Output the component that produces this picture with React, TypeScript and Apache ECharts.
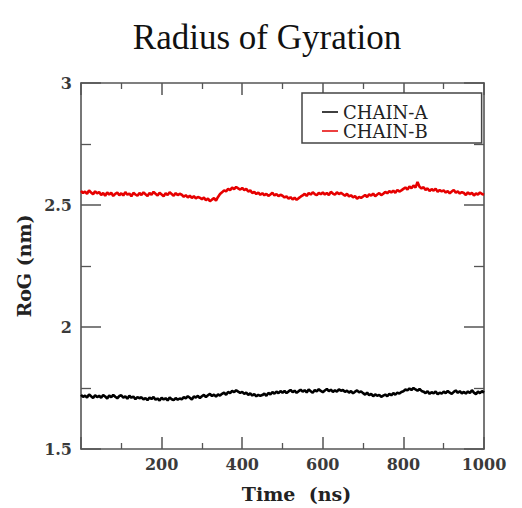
import React, { useEffect, useRef } from "react";
import * as echarts from "echarts";

// Sampling interval of the trajectory (ns)
const TIME_STEP = 5;

// Radius of gyration (nm), CHAIN-A, read every 5 ns from 0 to 1000 ns
const chainA: number[] = [
  1.722, 1.714, 1.719, 1.711, 1.724, 1.716, 1.709, 1.72, 1.713, 1.718,
  1.71, 1.721, 1.715, 1.707, 1.719, 1.712, 1.722, 1.714, 1.708, 1.717,
  1.72, 1.711, 1.716, 1.706, 1.718, 1.71, 1.715, 1.704, 1.713, 1.708,
  1.712, 1.703, 1.709, 1.7, 1.711, 1.705, 1.713, 1.702, 1.707, 1.699,
  1.71, 1.703, 1.708, 1.699, 1.711, 1.704, 1.7, 1.709, 1.702, 1.707,
  1.704, 1.712, 1.708, 1.716, 1.71, 1.703, 1.715, 1.711, 1.718, 1.709,
  1.716, 1.722, 1.713, 1.72, 1.726, 1.717, 1.723, 1.715, 1.724, 1.719,
  1.726, 1.731, 1.722, 1.734, 1.729, 1.738, 1.733, 1.741, 1.735, 1.73,
  1.734, 1.726, 1.731, 1.722, 1.728, 1.719, 1.725, 1.716, 1.722, 1.718,
  1.721, 1.727, 1.718, 1.73, 1.724, 1.733, 1.727, 1.735, 1.729, 1.737,
  1.731, 1.738, 1.729, 1.736, 1.742, 1.733, 1.739, 1.73, 1.737, 1.743,
  1.735, 1.741, 1.732, 1.744, 1.737, 1.73, 1.742, 1.736, 1.745, 1.738,
  1.733, 1.74, 1.746, 1.737, 1.743, 1.734, 1.741, 1.735, 1.744, 1.739,
  1.742, 1.734, 1.739, 1.731, 1.737, 1.728, 1.735, 1.74, 1.732, 1.736,
  1.729, 1.723, 1.731, 1.72, 1.726, 1.716, 1.724, 1.718, 1.722, 1.714,
  1.719, 1.723, 1.716, 1.726, 1.72, 1.729, 1.723, 1.731, 1.727, 1.734,
  1.737, 1.744, 1.74, 1.748, 1.742, 1.75, 1.744, 1.739, 1.746, 1.738,
  1.735, 1.729, 1.737, 1.726, 1.733, 1.728, 1.736, 1.724, 1.731, 1.727,
  1.735, 1.729, 1.738, 1.731, 1.726, 1.734, 1.74, 1.73, 1.737, 1.728,
  1.734, 1.727, 1.736, 1.729, 1.741, 1.731, 1.725, 1.735, 1.729, 1.737,
  1.731,
];

// Radius of gyration (nm), CHAIN-B, read every 5 ns from 0 to 1000 ns
const chainB: number[] = [
  2.558, 2.549, 2.555, 2.546, 2.56, 2.551, 2.544, 2.556, 2.548, 2.553,
  2.541, 2.549, 2.538, 2.552, 2.543, 2.55, 2.537, 2.546, 2.551, 2.54,
  2.548, 2.539, 2.553, 2.542, 2.547, 2.536, 2.55, 2.543, 2.538, 2.549,
  2.541, 2.552, 2.544, 2.537, 2.549, 2.542, 2.554, 2.546, 2.539, 2.55,
  2.543, 2.536, 2.548, 2.541, 2.552, 2.545, 2.538, 2.549, 2.54, 2.546,
  2.542, 2.534, 2.54, 2.531, 2.538, 2.529, 2.536, 2.527, 2.533, 2.53,
  2.524, 2.531, 2.519, 2.527, 2.515, 2.522, 2.528, 2.518, 2.533, 2.545,
  2.552, 2.56, 2.556, 2.566, 2.561, 2.571, 2.565, 2.574, 2.568, 2.563,
  2.57, 2.561, 2.566, 2.555, 2.56, 2.549, 2.554, 2.545, 2.551, 2.542,
  2.548, 2.54, 2.546, 2.537, 2.543, 2.55, 2.539, 2.545, 2.536, 2.542,
  2.538, 2.531, 2.535, 2.526, 2.532, 2.523, 2.53, 2.521, 2.528, 2.534,
  2.539, 2.546, 2.537, 2.549, 2.543, 2.552, 2.545, 2.54, 2.55, 2.544,
  2.551, 2.543, 2.549, 2.541, 2.554, 2.547, 2.542, 2.552, 2.545, 2.55,
  2.544, 2.538, 2.546, 2.535, 2.54, 2.531, 2.537, 2.526, 2.533, 2.529,
  2.535, 2.541, 2.533, 2.544, 2.538, 2.547, 2.536, 2.543, 2.549, 2.54,
  2.546, 2.554, 2.548, 2.557, 2.551, 2.559, 2.55, 2.562, 2.555, 2.56,
  2.566, 2.572, 2.563, 2.576, 2.569, 2.58, 2.571, 2.594, 2.575, 2.568,
  2.573, 2.562, 2.568, 2.557, 2.565, 2.559, 2.567, 2.554, 2.561, 2.556,
  2.56, 2.551, 2.557, 2.548, 2.555, 2.562, 2.55, 2.556, 2.547, 2.553,
  2.549, 2.541, 2.552, 2.544, 2.55, 2.539, 2.547, 2.543, 2.551, 2.545,
  2.542,
];

const seriesNames = ["CHAIN-A", "CHAIN-B"];
const seriesColors = ["#000000", "#e60000"];
const titleText = "Radius of Gyration";
const xAxisName = "Time  (ns)";
const yAxisName = "RoG (nm)";
const xRange = [0, 1000];
const xInterval = 200;
const yRange = [1.5, 3];
const yInterval = 0.5;

const AXIS_COLOR = "#555";
const SERIF = "'DejaVu Serif', 'Liberation Serif', serif";

export default function App() {
  const ref = useRef<HTMLDivElement>(null);

  useEffect(() => {
    if (!ref.current) return;
    const chart = echarts.init(ref.current, undefined, { renderer: "svg" });

    const toPairs = (vals: number[]) => vals.map((v, i) => [i * TIME_STEP, v]);

    const axisLine = { show: true, onZero: false, lineStyle: { color: AXIS_COLOR, width: 1.6 } };

    const xCommon = {
      type: "value" as const,
      min: xRange[0],
      max: xRange[1],
      interval: xInterval,
      splitLine: { show: false },
      axisLine,
      axisTick: { show: true, inside: true, length: 12, lineStyle: { color: AXIS_COLOR, width: 1.5 } },
      minorTick: { show: true, splitNumber: 2, length: 6, lineStyle: { color: AXIS_COLOR, width: 1.3 } },
      minorSplitLine: { show: false },
    };
    const yCommon = {
      type: "value" as const,
      min: yRange[0],
      max: yRange[1],
      interval: yInterval,
      splitLine: { show: false },
      axisLine,
      axisTick: { show: true, inside: true, length: 20, lineStyle: { color: AXIS_COLOR, width: 1.5 } },
      minorTick: { show: true, splitNumber: 2, length: 10, lineStyle: { color: AXIS_COLOR, width: 1.3 } },
      minorSplitLine: { show: false },
    };

    const tickLabel = {
      show: true,
      fontFamily: SERIF,
      fontSize: 16,
      fontWeight: "bold" as const,
      color: "#3a3a3a",
      formatter: (v: number) => String(v),
    };

    chart.setOption({
      animation: false,
      backgroundColor: "#ffffff",
      title: {
        text: titleText,
        left: 262,
        textAlign: "center",
        top: 15,
        textStyle: {
          fontFamily: "'Liberation Serif', 'Times New Roman', serif",
          fontSize: 35,
          fontWeight: "normal",
          color: "#111",
        },
      },
      legend: {
        data: seriesNames,
        orient: "vertical",
        left: 302,
        top: 93,
        icon: "rect",
        itemWidth: 16,
        itemHeight: 1.5,
        itemGap: 1,
        padding: [10, 54, 3, 20],
        borderColor: "#444",
        borderWidth: 1.5,
        borderRadius: 0,
        backgroundColor: "#ffffff",
        textStyle: {
          fontFamily: SERIF,
          fontSize: 18,
          lineHeight: 17,
          color: "#222",
        },
      },
      grid: { left: 81, right: 38, top: 83, bottom: 51, containLabel: false },
      xAxis: [
        {
          ...xCommon,
          position: "bottom",
          name: xAxisName,
          nameLocation: "middle",
          nameGap: 35,
          nameTextStyle: {
            fontFamily: SERIF,
            fontSize: 19,
            fontWeight: "bold",
            color: "#222",
            padding: [0, 0, 0, 28],
          },
          axisLabel: { ...tickLabel, showMinLabel: false, margin: 7 },
        },
        {
          ...xCommon,
          position: "top",
          axisLabel: { show: false },
        },
      ],
      yAxis: [
        {
          ...yCommon,
          position: "left",
          name: yAxisName,
          nameLocation: "middle",
          nameRotate: 90,
          nameGap: 47,
          nameTextStyle: {
            fontFamily: SERIF,
            fontSize: 19,
            fontWeight: "bold",
            color: "#222",
          },
          axisLabel: { ...tickLabel, margin: 9 },
        },
        {
          ...yCommon,
          position: "right",
          axisLabel: { show: false },
        },
      ],
      series: [
        {
          name: seriesNames[0],
          type: "line",
          xAxisIndex: 0,
          yAxisIndex: 0,
          data: toPairs(chainA),
          showSymbol: false,
          symbol: "none",
          color: seriesColors[0],
          lineStyle: { color: seriesColors[0], width: 2.6 },
          z: 2,
        },
        {
          name: seriesNames[1],
          type: "line",
          xAxisIndex: 0,
          yAxisIndex: 0,
          data: toPairs(chainB),
          showSymbol: false,
          symbol: "none",
          color: seriesColors[1],
          lineStyle: { color: seriesColors[1], width: 2.6 },
          z: 2,
        },
      ],
    });

    return () => chart.dispose();
  }, []);

  return (
    <div
      ref={ref}
      style={{ position: "absolute", left: 0, top: 0, width: 522, height: 508 }}
    />
  );
}
